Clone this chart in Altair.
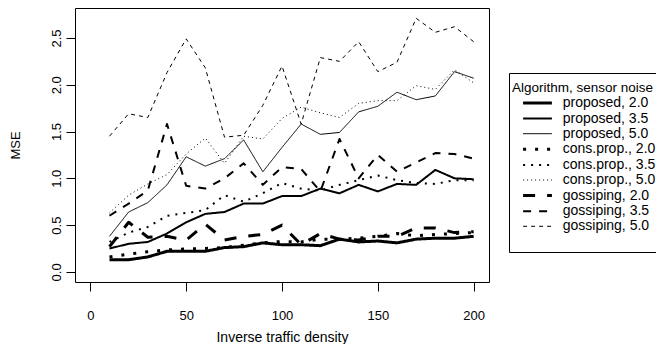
import altair as alt
import pandas as pd

# ---- data ----
x_vals = [10, 20, 30, 40, 50, 60, 70, 80, 90, 100,
          110, 120, 130, 140, 150, 160, 170, 180, 190, 200]

series_names = ["proposed, 2.0", "proposed, 3.5", "proposed, 5.0",
                "cons.prop., 2.0", "cons.prop., 3.5", "cons.prop., 5.0",
                "gossiping, 2.0", "gossiping, 3.5", "gossiping, 5.0"]

prop_20 = [0.13, 0.13, 0.16, 0.22, 0.22, 0.22, 0.26, 0.27, 0.31, 0.29,
           0.29, 0.28, 0.35, 0.32, 0.33, 0.31, 0.35, 0.36, 0.36, 0.38]
prop_35 = [0.25, 0.30, 0.32, 0.41, 0.53, 0.62, 0.64, 0.73, 0.73, 0.81,
           0.81, 0.89, 0.84, 0.93, 0.86, 0.94, 0.93, 1.09, 1.00, 0.99]
prop_50 = [0.38, 0.64, 0.74, 0.93, 1.23, 1.13, 1.21, 1.41, 1.07, 1.33,
           1.58, 1.47, 1.49, 1.71, 1.77, 1.92, 1.84, 1.88, 2.14, 2.07]

cp_20 = [0.16, 0.19, 0.215, 0.235, 0.245, 0.25, 0.26, 0.285, 0.31, 0.325,
         0.32, 0.35, 0.35, 0.36, 0.38, 0.41, 0.385, 0.40, 0.41, 0.42]
cp_35 = [0.32, 0.42, 0.48, 0.60, 0.63, 0.66, 0.82, 0.75, 0.84, 0.95,
         0.89, 0.87, 0.93, 0.98, 1.03, 0.98, 0.95, 0.94, 0.98, 0.98]
cp_50 = [0.63, 0.82, 0.94, 1.04, 1.26, 1.43, 1.16, 1.45, 1.42, 1.64,
         1.76, 1.70, 1.65, 1.80, 1.83, 1.83, 1.99, 1.95, 2.16, 2.02]

g_20 = [0.27, 0.53, 0.37, 0.38, 0.34, 0.51, 0.34, 0.38, 0.40, 0.50,
        0.29, 0.41, 0.35, 0.34, 0.38, 0.38, 0.47, 0.47, 0.42, 0.43]
g_35 = [0.60, 0.73, 0.87, 1.58, 0.92, 0.89, 1.00, 1.16, 0.93, 1.12,
        1.10, 0.86, 1.42, 1.00, 1.25, 1.07, 1.17, 1.27, 1.26, 1.21]
g_50 = [1.45, 1.69, 1.65, 2.13, 2.49, 2.18, 1.44, 1.46, 1.78, 2.20,
        1.58, 2.29, 2.25, 2.46, 2.14, 2.24, 2.71, 2.56, 2.62, 2.46]

x_ticks = [0, 50, 100, 150, 200]
y_ticks = [0.0, 0.5, 1.0, 1.5, 2.0, 2.5]

# ---- styles ----
line_widths = [3, 2, 1, 3, 2, 1, 3, 2, 1]
line_dashes = [[1, 0], [1, 0], [1, 0],
               [3, 9], [2, 6], [1, 3],
               [12, 12], [8, 8], [4, 4]]

all_series = [prop_20, prop_35, prop_50, cp_20, cp_35, cp_50, g_20, g_35, g_50]
rows = []
for name, vals in zip(series_names, all_series):
    for xv, yv in zip(x_vals, vals):
        rows.append({"x": xv, "mse": yv, "series": name})
df = pd.DataFrame(rows)

# an empty, invisible last legend row gives the legend box its bottom margin
legend_domain = series_names + ["\u00a0"]
legend_widths = line_widths + [0]
legend_dashes = line_dashes + [[0, 10]]

FONT = "Liberation Sans"
legend_title = ["", "Algorithm, sensor noise"]

chart = alt.Chart(df).mark_line(color="black", strokeCap="butt", strokeJoin="round").encode(
    x=alt.X("x:Q",
            scale=alt.Scale(domain=[-8, 208], nice=False, zero=False),
            axis=alt.Axis(values=x_ticks, title="Inverse traffic density",
                          format="d", grid=False, domain=False,
                          tickSize=9, tickColor="black", labelPadding=18,
                          labelFontSize=13, labelColor="black", labelFont=FONT,
                          titleFontSize=14, titleFont=FONT, titleFontWeight="normal",
                          titleColor="black", titleY=59, titleBaseline="alphabetic")),
    y=alt.Y("mse:Q",
            scale=alt.Scale(domain=[-0.108, 2.82], nice=False, zero=False),
            axis=alt.Axis(values=y_ticks, title="MSE", format=".1f",
                          grid=False, domain=False,
                          tickSize=9, tickColor="black", labelPadding=3,
                          labelAngle=270, labelAlign="center", labelBaseline="bottom",
                          labelFontSize=13, labelColor="black", labelFont=FONT,
                          titleFontSize=13, titleFont=FONT, titleFontWeight="normal",
                          titleColor="black", titleX=-53)),
    strokeDash=alt.StrokeDash("series:N",
                              scale=alt.Scale(domain=legend_domain, range=legend_dashes),
                              legend=alt.Legend(title=legend_title)),
    strokeWidth=alt.StrokeWidth("series:N",
                                scale=alt.Scale(type="ordinal", domain=legend_domain, range=legend_widths),
                                legend=alt.Legend(title=legend_title)),
).properties(
    width=414,
    height=274,
    padding={"left": 67, "top": 0, "right": 167, "bottom": 62},
    autosize=alt.AutoSizeParams(type="none"),
).configure(
    font=FONT
).configure_view(
    stroke="black", strokeWidth=1
).configure_legend(
    orient="none", legendX=434, legendY=65,
    strokeColor="black", fillColor="white", padding=3,
    titleFont=FONT, titleFontSize=13.5, titleFontWeight="normal", titleColor="black",
    titleLineHeight=5, titlePadding=1, titleLimit=300,
    labelFont=FONT, labelFontSize=14, labelColor="black", labelLimit=300,
    symbolType="M-2.4,0H2.4", symbolSize=144, symbolStrokeColor="black",
    symbolFillColor="transparent",
    symbolOffset=18, labelOffset=17.7, rowPadding=1.1,
)

chart.save("out.html", embed_options={"renderer": "svg", "actions": False})
